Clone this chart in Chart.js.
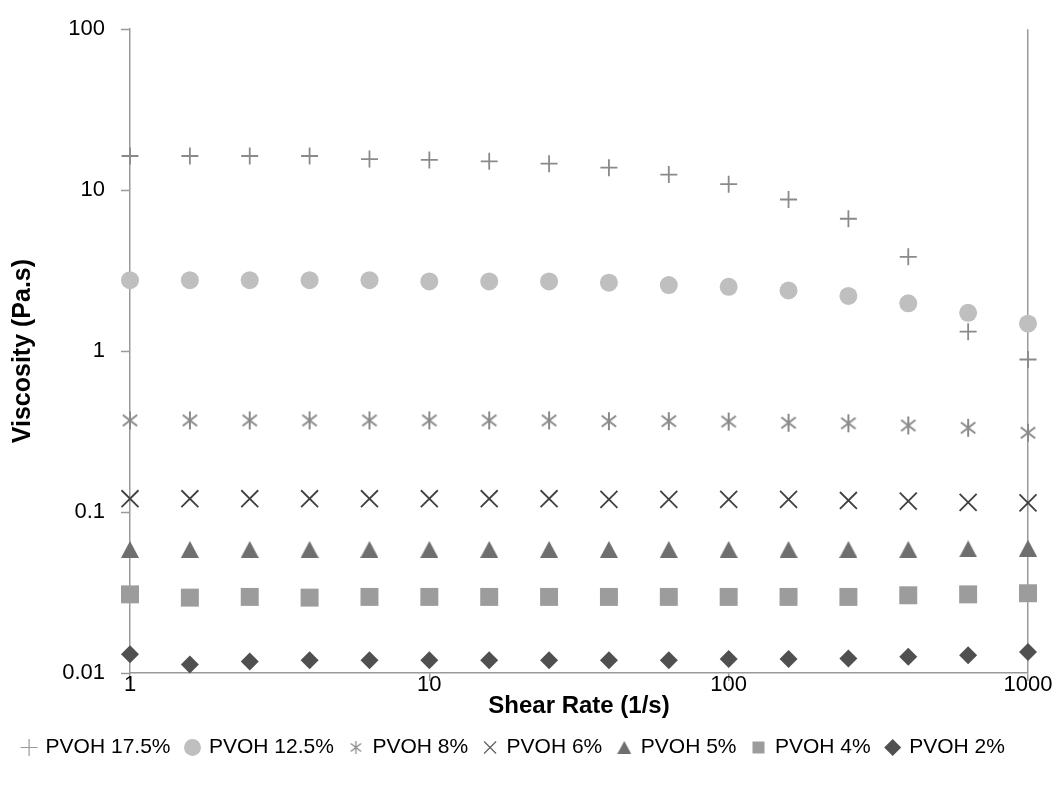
<!DOCTYPE html>
<html>
<head>
<meta charset="utf-8">
<script src="https://cdn.jsdelivr.net/npm/chart.js@4/dist/chart.umd.min.js"></script>
<style>
  html, body { margin: 0; padding: 0; background: #fff; }
  #wrap { width: 1055px; height: 785px; }
</style>
</head>
<body>
<div id="wrap"><canvas id="c" width="1055" height="785"></canvas></div>
<script>
// Shear rate sweep (1/s), five points per decade
const shearRate = [1, 1.585, 2.512, 3.981, 6.31, 10, 15.85, 25.12, 39.81, 63.1, 100, 158.5, 251.2, 398.1, 631, 1000];

// Viscosity (Pa.s) for each PVOH concentration
const pvoh175 = [16.3, 16.3, 16.3, 16.3, 15.6, 15.4, 15.1, 14.6, 13.8, 12.5, 10.9, 8.75, 6.64, 3.85, 1.32, 0.887];
const pvoh125 = [2.76, 2.76, 2.76, 2.76, 2.76, 2.71, 2.71, 2.71, 2.66, 2.57, 2.51, 2.38, 2.20, 1.98, 1.73, 1.48];
const pvoh8   = [0.371, 0.371, 0.371, 0.371, 0.371, 0.371, 0.371, 0.371, 0.367, 0.367, 0.365, 0.359, 0.356, 0.345, 0.334, 0.311];
const pvoh6   = [0.121, 0.121, 0.121, 0.121, 0.121, 0.121, 0.121, 0.121, 0.120, 0.120, 0.120, 0.120, 0.118, 0.117, 0.115, 0.114];
const pvoh5   = [0.0586, 0.0586, 0.0586, 0.0586, 0.0586, 0.0586, 0.0586, 0.0586, 0.0586, 0.0586, 0.0586, 0.0586, 0.0586, 0.0586, 0.0590, 0.0597];
const pvoh4   = [0.0308, 0.0294, 0.0297, 0.0294, 0.0297, 0.0297, 0.0297, 0.0297, 0.0297, 0.0297, 0.0297, 0.0297, 0.0297, 0.0304, 0.0308, 0.0313];
const pvoh2   = [0.0131, 0.0113, 0.0118, 0.0120, 0.0120, 0.0120, 0.0120, 0.0120, 0.0120, 0.0120, 0.0122, 0.0122, 0.0123, 0.0126, 0.0129, 0.0135];

const seriesNames = ['PVOH 17.5%', 'PVOH 12.5%', 'PVOH 8%', 'PVOH 6%', 'PVOH 5%', 'PVOH 4%', 'PVOH 2%'];

// Axis tick values (decades only)
const xTicks = [1, 10, 100, 1000];
const yTicks = [0.01, 0.1, 1, 10, 100];

const FONT = '"Liberation Sans", Arial, sans-serif';
const AXIS_GREY = '#9a9a9a';

// Custom marker: six-armed asterisk (X plus a vertical bar)
function asteriskMarker(size, color, lw) {
  const c = document.createElement('canvas');
  c.width = size; c.height = size;
  const g = c.getContext('2d');
  g.strokeStyle = color; g.lineWidth = lw; g.lineCap = 'butt';
  const m = size / 2, r = size / 2 - 1;
  const dx = r * 0.80, dy = r * 0.62;
  g.beginPath();
  g.moveTo(m, m - r); g.lineTo(m, m + r);
  g.moveTo(m - dx, m - dy); g.lineTo(m + dx, m + dy);
  g.moveTo(m - dx, m + dy); g.lineTo(m + dx, m - dy);
  g.stroke();
  return c;
}

// Custom marker: filled triangle whose bounding box is centred on the point
function triangleMarker(w, h, color) {
  const c = document.createElement('canvas');
  c.width = w; c.height = h;
  const g = c.getContext('2d');
  g.fillStyle = color;
  g.beginPath();
  g.moveTo(w / 2, 0); g.lineTo(w, h); g.lineTo(0, h); g.closePath();
  g.fill();
  return c;
}

const starBig = asteriskMarker(20, '#8a8a8a', 2);
const starSmall = asteriskMarker(15, '#8a8a8a', 1.3);
const triBig = triangleMarker(18, 17, '#6f6f6f');
const triSmall = triangleMarker(14, 13, '#6f6f6f');

function pts(arr) { return shearRate.map((x, i) => ({ x: x, y: arr[i] })); }

const datasets = [
  { label: seriesNames[0], data: pts(pvoh175), pointStyle: 'cross', pointRadius: 8.5, borderColor: '#8a8a8a', backgroundColor: '#8a8a8a', pointBorderWidth: 1.8,
    legendStyle: 'cross', legendColor: '#9a9a9a' },
  { label: seriesNames[1], data: pts(pvoh125), pointStyle: 'circle', pointRadius: 9, borderColor: '#bfbfbf', backgroundColor: '#bfbfbf', pointBorderWidth: 0,
    legendStyle: 'circle', legendColor: '#bfbfbf' },
  { label: seriesNames[2], data: pts(pvoh8), pointStyle: starBig, pointRadius: 10, borderColor: '#8a8a8a', backgroundColor: '#8a8a8a',
    legendStyle: starSmall, legendColor: '#8a8a8a' },
  { label: seriesNames[3], data: pts(pvoh6), pointStyle: 'crossRot', pointRadius: 12, borderColor: '#404040', backgroundColor: '#404040', pointBorderWidth: 1.8,
    legendStyle: 'crossRot', legendColor: '#606060' },
  { label: seriesNames[4], data: pts(pvoh5), pointStyle: triBig, pointRadius: 9, borderColor: '#6f6f6f', backgroundColor: '#6f6f6f',
    legendStyle: triSmall, legendColor: '#6f6f6f' },
  { label: seriesNames[5], data: pts(pvoh4), pointStyle: 'rect', pointRadius: 12.7, borderColor: '#9c9c9c', backgroundColor: '#9c9c9c', pointBorderWidth: 0,
    legendStyle: 'rect', legendColor: '#9c9c9c' },
  { label: seriesNames[6], data: pts(pvoh2), pointStyle: 'rectRot', pointRadius: 9, borderColor: '#505050', backgroundColor: '#505050', pointBorderWidth: 0,
    legendStyle: 'rectRot', legendColor: '#505050' }
].map(d => Object.assign({ showLine: false, clip: false, pointHoverRadius: d.pointRadius }, d));

function fmt(v) {
  if (v >= 1) return String(Math.round(v));
  return String(+v.toPrecision(1));
}

new Chart(document.getElementById('c'), {
  type: 'scatter',
  data: { datasets: datasets },
  options: {
    responsive: false,
    animation: false,
    devicePixelRatio: 1,
    layout: { padding: { top: 27, right: 27, left: 0, bottom: 17 } },
    plugins: {
      tooltip: { enabled: false },
      legend: {
        position: 'bottom',
        labels: {
          usePointStyle: true,
          boxHeight: 12,
          boxWidth: 12,
          padding: 16,
          color: '#000',
          font: { family: FONT, size: 21 },
          generateLabels(chart) {
            return chart.data.datasets.map((ds, i) => ({
              text: ds.label,
              datasetIndex: i,
              pointStyle: ds.legendStyle,
              fillStyle: ds.legendColor,
              strokeStyle: ds.legendColor,
              lineWidth: (ds.legendStyle === 'cross' || ds.legendStyle === 'crossRot') ? 1.2 : 0,
              fontColor: '#000',
              hidden: false
            }));
          }
        }
      }
    },
    scales: {
      x: {
        type: 'logarithmic',
        min: 1, max: 1000,
        afterBuildTicks(scale) { scale.ticks = xTicks.map(v => ({ value: v, major: true })); },
        afterFit(scale) { scale.height = 48; },
        border: { color: AXIS_GREY, width: 1.5 },
        grid: {
          drawOnChartArea: true,
          color: ctx => (ctx.tick && ctx.tick.value === 1000 ? AXIS_GREY : 'rgba(0,0,0,0)'),
          lineWidth: 1.5,
          tickColor: AXIS_GREY,
          tickLength: 8,
          tickWidth: 1.5
        },
        ticks: {
          autoSkip: false, maxRotation: 0, padding: -9,
          color: '#000',
          font: { family: FONT, size: 22 },
          callback: v => fmt(v)
        },
        title: {
          display: true,
          text: 'Shear Rate (1/s)',
          color: '#000',
          font: { family: FONT, size: 24, weight: 'bold' },
          padding: { top: 0, bottom: 0 }
        }
      },
      y: {
        type: 'logarithmic',
        min: 0.01, max: 100,
        afterBuildTicks(scale) { scale.ticks = yTicks.map(v => ({ value: v, major: true })); },
        afterFit(scale) { scale.width = 130; },
        border: { color: AXIS_GREY, width: 1.5 },
        grid: {
          drawOnChartArea: false,
          tickColor: AXIS_GREY,
          tickLength: 9,
          tickWidth: 1.5
        },
        ticks: {
          autoSkip: false, padding: 16,
          color: '#000',
          font: { family: FONT, size: 22 },
          callback: v => fmt(v)
        },
        title: {
          display: true,
          text: 'Viscosity (Pa.s)',
          color: '#000',
          font: { family: FONT, size: 25, weight: 'bold' },
          padding: { top: 8, bottom: 0 }
        }
      }
    }
  }
});
</script>
</body>
</html>
